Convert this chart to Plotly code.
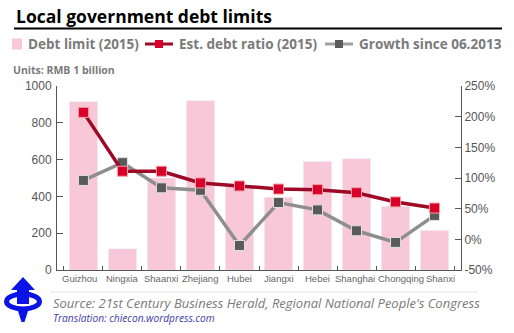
import plotly.graph_objects as go

provinces = ["Guizhou", "Ningxia", "Shaanxi", "Zhejiang", "Hubei", "Jiangxi",
             "Hebei", "Shanghai", "Chongqing", "Shanxi"]
debt_limit = [915, 115, 500, 920, 460, 395, 590, 605, 345, 215]
debt_ratio = [207, 111, 111, 92, 87, 82, 81, 76, 61, 51]
growth = [96, 125, 84, 80, -10, 60, 48, 14, -5, 39]

left_ticks = [0, 200, 400, 600, 800, 1000]
right_ticks = [-50, 0, 50, 100, 150, 200, 250]
right_labels = ["-50%", "0%", "50%", "100%", "150%", "200%", "250%"]

# per-label horizontal nudges (px) for the category labels, as in the original layout
label_nudge = [-4, 0, 0, 0, 0, 0, 0, -1.5, 5, 6]

W, H = 514, 333
L, R, T, B = 57, 461, 86, 270


def px(x):
    return (x - L) / (R - L)


def py(y):
    return (B - y) / (B - T)


PINK = "#f8c8d8"
RED_LINE = "#9e0a26"
RED_MK = "#d8002a"
GREY_LINE = "#8e8e8e"
GREY_MK = "#5a5a5a"
TXT = "#7a7a7a"

fig = go.Figure()
fig.add_trace(go.Bar(x=provinces, y=debt_limit, marker_color=PINK, width=0.72,
                     name="Debt limit (2015)", showlegend=False))
fig.add_trace(go.Scatter(x=provinces, y=growth, yaxis="y2", mode="lines+markers",
                         line=dict(color=GREY_LINE, width=3.5),
                         marker=dict(symbol="square", size=10, color=GREY_MK,
                                     line=dict(color="#e0e0e0", width=1)),
                         name="Growth since 06.2013", showlegend=False))
fig.add_trace(go.Scatter(x=provinces, y=debt_ratio, yaxis="y2", mode="lines+markers",
                         line=dict(color=RED_LINE, width=3.5),
                         marker=dict(symbol="square", size=10, color=RED_MK,
                                     line=dict(color="#f0a0a0", width=1)),
                         name="Est. debt ratio (2015)", showlegend=False))

axis_font = dict(family="Liberation Sans, Arial", size=12, color="#555555")
fig.update_layout(
    width=W, height=H,
    margin=dict(l=L, r=W - R, t=T, b=H - B),
    paper_bgcolor="white", plot_bgcolor="white",
    bargap=0.28,
    xaxis=dict(type="category", showline=True, linecolor="#555555", linewidth=1,
               ticks="inside", ticklen=4, tickcolor="#555555", tickson="boundaries",
               showticklabels=False, showgrid=False, zeroline=False, fixedrange=True),
    yaxis=dict(range=[0, 1000], tickvals=left_ticks, showline=True, linecolor="#555555",
               linewidth=1, ticks="inside", ticklen=6, tickcolor="#555555",
               tickfont=axis_font, showgrid=False, zeroline=False, ticklabelstandoff=2),
    yaxis2=dict(range=[-50, 250], tickvals=right_ticks, ticktext=right_labels, overlaying="y",
                side="right", showline=True, linecolor="#555555", linewidth=1,
                ticks="inside", ticklen=6, tickcolor="#555555", tickfont=axis_font,
                showgrid=False, zeroline=False),
    showlegend=False,
)

shapes = []
annotations = []

# category labels, placed on the x scale
for name, dx in zip(provinces, label_nudge):
    annotations.append(dict(text=name, xref="x", yref="paper", x=name, y=py(278),
                            xanchor="center", yanchor="middle", xshift=dx, showarrow=False,
                            font=dict(family="Liberation Sans", size=9.5, color="#666666")))

# title and rule
annotations.append(dict(text="<b>Local government debt limits</b>", xref="paper", yref="paper",
                        x=px(14), y=py(16), xanchor="left", yanchor="middle", showarrow=False,
                        font=dict(family="Open Sans", size=17.5, color="#000000")))
shapes.append(dict(type="line", xref="paper", yref="paper", x0=px(14), x1=px(502),
                   y0=py(28.5), y1=py(28.5), line=dict(color="#000000", width=2)))

# legend
leg_y = py(44)
leg_font = dict(family="Open Sans", size=13.5, color=TXT)
shapes.append(dict(type="rect", xref="paper", yref="paper", x0=px(12), x1=px(22),
                   y0=py(38.5), y1=py(49.5), fillcolor=PINK, line=dict(width=0)))
annotations.append(dict(text="<b>Debt limit (2015)</b>", xref="paper", yref="paper",
                        x=px(26), y=leg_y, xanchor="left", yanchor="middle", showarrow=False,
                        font=leg_font))
for (x0, x1, lc, mc, tx, label) in [
        (145, 173, RED_LINE, RED_MK, 177, "Est. debt ratio (2015)"),
        (325, 353, "#a0a0a0", GREY_MK, 357, "Growth since 06.2013")]:
    shapes.append(dict(type="line", xref="paper", yref="paper", x0=px(x0), x1=px(x1),
                       y0=leg_y, y1=leg_y, line=dict(color=lc, width=3)))
    cx = (x0 + x1) / 2
    shapes.append(dict(type="rect", xref="paper", yref="paper", x0=px(cx - 4), x1=px(cx + 4),
                       y0=py(48), y1=py(40), fillcolor=mc, line=dict(width=0)))
    annotations.append(dict(text="<b>" + label + "</b>", xref="paper", yref="paper",
                            x=px(tx), y=leg_y, xanchor="left", yanchor="middle",
                            showarrow=False, font=leg_font))

annotations.append(dict(text="<b>Units: RMB 1 billion</b>", xref="paper", yref="paper",
                        x=px(11), y=py(70), xanchor="left", yanchor="middle", showarrow=False,
                        font=dict(family="Open Sans", size=10.5, color=TXT)))

# footer
shapes.append(dict(type="line", xref="paper", yref="paper", x0=px(50), x1=px(478),
                   y0=py(292), y1=py(292), line=dict(color="#e6e6e6", width=1)))
annotations.append(dict(text="<i>Source: 21st Century Business Herald, Regional National People's Congress</i>",
                        xref="paper", yref="paper", x=px(51), y=py(303), xanchor="left",
                        yanchor="middle", showarrow=False,
                        font=dict(family="Open Sans", size=13, color="#7a7a7a")))
annotations.append(dict(text="<i>Translation: chiecon.wordpress.com</i>",
                        xref="paper", yref="paper", x=px(51), y=py(318), xanchor="left",
                        yanchor="middle", showarrow=False,
                        font=dict(family="Open Sans", size=10.2, color="#3c3ca8")))

# logo
BLUE = "#0a14e6"
shapes.append(dict(type="circle", xref="paper", yref="paper", x0=px(6.5), x1=px(39.5),
                   y0=py(294), y1=py(309), line=dict(color=BLUE, width=5), fillcolor="rgba(0,0,0,0)"))


def path(pts):
    return "M " + " L ".join(f"{px(a):.5f},{py(b):.5f}" for a, b in pts) + " Z"


shapes.append(dict(type="path", xref="paper", yref="paper",
                   path=path([(23, 277), (35, 290), (29, 290), (29, 304), (17, 304), (17, 290), (11, 290)]),
                   fillcolor=BLUE, line=dict(width=0)))
shapes.append(dict(type="path", xref="paper", yref="paper",
                   path=path([(17, 308), (29, 308), (24.5, 322), (21.5, 322)]),
                   fillcolor=BLUE, line=dict(width=0)))

fig.update_layout(shapes=shapes, annotations=annotations)
fig.write_html("out.html")
